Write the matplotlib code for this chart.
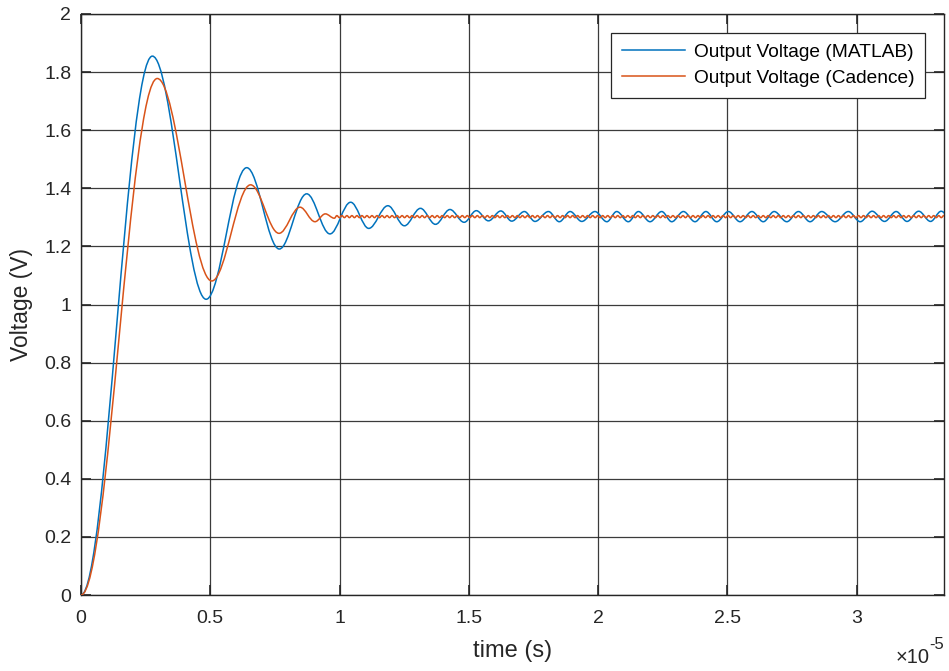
import numpy as np
import matplotlib
matplotlib.use("Agg")
import matplotlib.pyplot as plt
from matplotlib.path import Path
from matplotlib.patches import PathPatch
from matplotlib.lines import Line2D

# ---------------- data (time in units of 1e-5 s, voltage in V) ----------------
time_scale = 1e-5

# MATLAB output: successive extrema
matlab_t = [0.000, 0.276, 0.484, 0.641, 0.767, 0.873, 0.963, 1.043, 1.113, 1.187,
            1.251, 1.313, 1.371, 1.427, 1.482, 1.529, 1.576, 1.624, 1.666, 1.715,
            1.756, 1.808, 1.850, 1.892, 1.937, 1.988, 2.034, 2.072, 2.117, 2.156,
            2.201, 2.246, 2.285, 2.330, 2.375, 2.417, 2.459, 2.504, 2.549, 2.595,
            2.639, 2.681, 2.730, 2.775, 2.820, 2.865, 2.917, 2.968, 3.014, 3.060,
            3.108, 3.153, 3.195, 3.240, 3.286, 3.327, 3.372]
matlab_v = [0.000, 1.855, 1.018, 1.471, 1.191, 1.381, 1.243, 1.352, 1.262, 1.340,
            1.271, 1.331, 1.276, 1.327, 1.283, 1.323, 1.288, 1.322, 1.287, 1.320,
            1.286, 1.320, 1.285, 1.320, 1.286, 1.320, 1.285, 1.320, 1.285, 1.320,
            1.285, 1.320, 1.285, 1.320, 1.285, 1.320, 1.285, 1.320, 1.285, 1.320,
            1.285, 1.320, 1.285, 1.320, 1.285, 1.320, 1.285, 1.320, 1.285, 1.321,
            1.286, 1.320, 1.286, 1.321, 1.286, 1.321, 1.286]

# Cadence output: transient extrema
cadence_t = [0.000, 0.295, 0.506, 0.656, 0.766, 0.847, 0.905, 0.945, 0.980]
cadence_v = [0.000, 1.778, 1.081, 1.412, 1.245, 1.335, 1.285, 1.312, 1.297]

# Cadence output: small steady-state ripple extrema (start time, half period, values)
cadence_ripple_t0 = 0.9897
cadence_ripple_step = 0.0097
cadence_ripple_v = [
    1.306, 1.299, 1.306, 1.299, 1.306, 1.299, 1.306, 1.299, 1.306, 1.299,
    1.306, 1.299, 1.306, 1.299, 1.306, 1.299, 1.306, 1.299, 1.306, 1.299,
    1.306, 1.299, 1.306, 1.299, 1.306, 1.299, 1.306, 1.299, 1.306, 1.299,
    1.306, 1.299, 1.306, 1.299, 1.306, 1.299, 1.306, 1.299, 1.306, 1.299,
    1.306, 1.299, 1.306, 1.299, 1.306, 1.299, 1.306, 1.299, 1.306, 1.299,
    1.306, 1.299, 1.306, 1.299, 1.306, 1.299, 1.306, 1.299, 1.306, 1.299,
    1.306, 1.299, 1.306, 1.299, 1.306, 1.299, 1.306, 1.299, 1.306, 1.299,
    1.306, 1.299, 1.306, 1.299, 1.306, 1.299, 1.306, 1.299, 1.306, 1.299,
    1.306, 1.299, 1.306, 1.299, 1.306, 1.299, 1.306, 1.299, 1.306, 1.299,
    1.306, 1.299, 1.306, 1.299, 1.306, 1.299, 1.306, 1.299, 1.306, 1.299,
    1.306, 1.299, 1.306, 1.299, 1.306, 1.299, 1.306, 1.299, 1.306, 1.299,
    1.306, 1.299, 1.306, 1.299, 1.306, 1.299, 1.306, 1.299, 1.306, 1.299,
    1.306, 1.299, 1.306, 1.299, 1.306, 1.299, 1.306, 1.299, 1.306, 1.299,
    1.306, 1.299, 1.306, 1.299, 1.306, 1.299, 1.306, 1.299, 1.306, 1.299,
    1.306, 1.299, 1.306, 1.299, 1.306, 1.299, 1.306, 1.299, 1.306, 1.299,
    1.306, 1.299, 1.306, 1.299, 1.306, 1.299, 1.306, 1.299, 1.306, 1.299,
    1.306, 1.299, 1.306, 1.299, 1.306, 1.299, 1.306, 1.299, 1.306, 1.299,
    1.306, 1.299, 1.306, 1.299, 1.306, 1.299, 1.306, 1.299, 1.306, 1.299,
    1.306, 1.299, 1.306, 1.299, 1.306, 1.299, 1.306, 1.299, 1.306, 1.299,
    1.306, 1.299, 1.306, 1.299, 1.306, 1.299, 1.306, 1.299, 1.306, 1.299,
    1.306, 1.299, 1.306, 1.299, 1.306, 1.299, 1.306, 1.299, 1.306, 1.299,
    1.306, 1.299, 1.306, 1.299, 1.306, 1.299, 1.306, 1.299, 1.306, 1.299,
    1.306, 1.299, 1.306, 1.299, 1.306, 1.299, 1.306, 1.299, 1.306, 1.299,
    1.306, 1.299, 1.306, 1.299, 1.306, 1.299, 1.306, 1.299, 1.306, 1.299,
    1.306, 1.299, 1.306, 1.299, 1.306, 1.299,
]

x_max = 3.338
y_ticks = [0, 0.2, 0.4, 0.6, 0.8, 1, 1.2, 1.4, 1.6, 1.8, 2]
x_ticks = [0, 0.5, 1, 1.5, 2, 2.5, 3]
legend_labels = ["Output Voltage (MATLAB)", "Output Voltage (Cadence)"]
x_label = "time (s)"
y_label = "Voltage (V)"
exp_base = "×10"
exp_power = "-5"

blue = "#0072BD"
orange = "#D95319"
axcol = "#262626"

# ---------------- drawing ----------------
plt.rcParams["font.family"] = ["Liberation Sans", "DejaVu Sans"]


def smooth_path(t, v, a=0.36):
    """Curve through the extrema with horizontal tangents at each extremum."""
    t = np.asarray(t, float) * time_scale
    v = np.asarray(v, float)
    verts = [(t[0], v[0])]
    codes = [Path.MOVETO]
    for i in range(len(t) - 1):
        dt = t[i + 1] - t[i]
        verts += [(t[i] + a * dt, v[i]), (t[i + 1] - a * dt, v[i + 1]), (t[i + 1], v[i + 1])]
        codes += [Path.CURVE4] * 3
    return Path(verts, codes)


fig = plt.figure(figsize=(9.49, 6.71), dpi=100)
ax = fig.add_axes([81 / 949, 1 - 595 / 671, (944 - 81) / 949, (595 - 14) / 671])

ripple_t = cadence_ripple_t0 + cadence_ripple_step * np.arange(len(cadence_ripple_v))
cad_t_all = list(cadence_t) + list(ripple_t)
cad_v_all = list(cadence_v) + list(cadence_ripple_v)

lw = 1.1
ax.add_patch(PathPatch(smooth_path(matlab_t, matlab_v), fill=False, edgecolor=blue, lw=lw, zorder=3))
ax.add_patch(PathPatch(smooth_path(cad_t_all, cad_v_all), fill=False, edgecolor=orange, lw=lw, zorder=4))

ax.set_xlim(0, x_max * time_scale)
ax.set_ylim(0, 2)
ax.set_xticks([x * time_scale for x in x_ticks])
ax.set_xticklabels([f"{x:g}" for x in x_ticks])
ax.set_yticks(y_ticks)
ax.set_yticklabels([f"{y:g}" for y in y_ticks])

ax.grid(True, color=axcol, alpha=0.9, lw=0.9)
ax.set_axisbelow(True)
for s in ax.spines.values():
    s.set_color(axcol)
    s.set_linewidth(1.0)
ax.tick_params(direction="in", top=True, right=True, length=7, width=1.2,
               colors=axcol, labelsize=14)
ax.tick_params(axis="x", pad=11)
ax.tick_params(axis="y", pad=7)

ax.set_xlabel(x_label, fontsize=17, color=axcol, labelpad=9)
ax.set_ylabel(y_label, fontsize=16.5, color=axcol, labelpad=8)

ax.text((930 - 81) / 863, -68 / 581, exp_base, transform=ax.transAxes, ha="right",
        va="baseline", fontsize=14.5, color=axcol)
ax.text((944 - 81) / 863, -54 / 581, exp_power, transform=ax.transAxes, ha="right",
        va="baseline", fontsize=12, color=axcol)

handles = [Line2D([], [], color=blue, lw=lw), Line2D([], [], color=orange, lw=lw)]
leg = ax.legend(handles, legend_labels, loc="upper right", fontsize=13.8,
                frameon=True, fancybox=False, framealpha=1, edgecolor=axcol,
                handlelength=3.3, handletextpad=0.45, labelspacing=0.45,
                borderaxespad=1.0, borderpad=0.55)
leg.get_frame().set_linewidth(0.9)

fig.savefig("out.png", dpi=100)
